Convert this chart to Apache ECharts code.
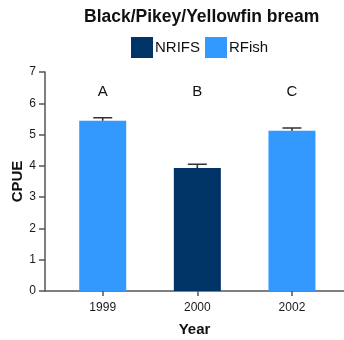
<!DOCTYPE html>
<html>
<head>
<meta charset="utf-8">
<script src="https://cdn.jsdelivr.net/npm/echarts@6/dist/echarts.min.js"></script>
<style>
  html, body { margin: 0; padding: 0; background: #fff; }
  #chart { width: 344px; height: 340px; }
</style>
</head>
<body>
<div id="chart"></div>
<script>
// Mean CPUE by survey year, with standard error and significance group letters
const years = ['1999', '2000', '2002'];
const surveys = ['RFish', 'NRIFS', 'RFish'];
const cpue = [5.44, 3.93, 5.12];
const stdErr = [0.10, 0.12, 0.09];
const groups = ['A', 'B', 'C'];
const yTicks = [0, 1, 2, 3, 4, 5, 6, 7];

const colours = { NRIFS: '#003366', RFish: '#3399FF' };
const FONT = '"Liberation Sans", Arial, sans-serif';
const LETTER_LEVEL = 6.35;

function seriesData(name) {
  return years.map((y, i) => surveys[i] === name ? [i, cpue[i]] : [i, null]);
}

const chart = echarts.init(document.getElementById('chart'), null, { renderer: 'canvas' });

chart.setOption({
  animation: false,
  backgroundColor: '#fff',
  textStyle: { fontFamily: FONT },
  title: {
    text: 'Black/Pikey/Yellowfin bream',
    left: 79,
    top: 3,
    textStyle: { fontFamily: FONT, fontSize: 17.5, fontWeight: 'bold', color: '#111' }
  },
  legend: {
    data: ['NRIFS', 'RFish'],
    left: 126,
    top: 32,
    itemWidth: 22,
    itemHeight: 21,
    itemGap: 5,
    icon: 'rect',
    textStyle: { fontFamily: FONT, fontSize: 15, color: '#111', padding: [0, 0, 0, -3] }
  },
  grid: { left: 45, right: 0, top: 72, bottom: 49, outerBoundsMode: 'none', containLabel: false },
  xAxis: {
    type: 'value',
    min: -0.61,
    max: 2.55,
    name: 'Year',
    nameLocation: 'middle',
    nameGap: 31,
    nameMoveOverlap: false,
    nameTextStyle: { fontFamily: FONT, fontSize: 15, fontWeight: 'bold', color: '#111' },
    axisLine: { show: true, onZero: false, lineStyle: { color: '#555', width: 1.5 } },
    axisTick: { show: true, customValues: [0, 1, 2], length: 5, lineStyle: { color: '#555', width: 1.5 } },
    axisLabel: {
      customValues: [0, 1, 2],
      formatter: v => years[Math.round(v)],
      fontFamily: FONT, fontSize: 12, color: '#1a1a1a', margin: 11
    },
    splitLine: { show: false }
  },
  yAxis: {
    type: 'value',
    min: 0,
    max: 7,
    interval: 1,
    name: 'CPUE',
    nameLocation: 'middle',
    nameGap: 20,
    nameMoveOverlap: false,
    nameTextStyle: { fontFamily: FONT, fontSize: 15, fontWeight: 'bold', color: '#111' },
    axisLine: { show: true, onZero: false, lineStyle: { color: '#555', width: 1.5 } },
    axisTick: { show: true, length: 6, lineStyle: { color: '#555', width: 1.5 } },
    axisLabel: {
      fontFamily: FONT, fontSize: 12, color: '#1a1a1a', margin: 9,
      formatter: v => yTicks.includes(v) ? String(v) : ''
    },
    splitLine: { show: false }
  },
  series: [
    {
      name: 'NRIFS',
      type: 'bar',
      barWidth: 47,
      barGap: '-100%',
      itemStyle: { color: colours.NRIFS },
      data: seriesData('NRIFS'),
      z: 2
    },
    {
      name: 'RFish',
      type: 'bar',
      barWidth: 47,
      barGap: '-100%',
      itemStyle: { color: colours.RFish },
      data: seriesData('RFish'),
      z: 2
    },
    {
      name: 'SE',
      type: 'custom',
      z: 3,
      data: years.map((y, i) => [i, cpue[i] + stdErr[i]]),
      renderItem: function (params, api) {
        const i = params.dataIndex;
        const base = api.coord([i, cpue[i]]);
        const top = api.coord([i, cpue[i] + stdErr[i]]);
        const half = 9.5;
        const style = { stroke: '#333', lineWidth: 1.6, fill: null };
        return {
          type: 'polyline',
          shape: {
            points: [
              [base[0], base[1]],
              [top[0], top[1]],
              [top[0] - half, top[1]],
              [top[0] + half, top[1]]
            ]
          },
          style: style
        };
      }
    },
    {
      name: 'Group',
      type: 'custom',
      z: 3,
      data: groups.map((g, i) => [i, LETTER_LEVEL]),
      renderItem: function (params, api) {
        const p = api.coord([api.value(0), api.value(1)]);
        return {
          type: 'text',
          x: p[0],
          y: p[1],
          style: {
            text: groups[params.dataIndex],
            fontFamily: FONT,
            fontSize: 15,
            fill: '#111',
            align: 'center',
            verticalAlign: 'middle'
          }
        };
      }
    }
  ]
});
</script>
</body>
</html>
